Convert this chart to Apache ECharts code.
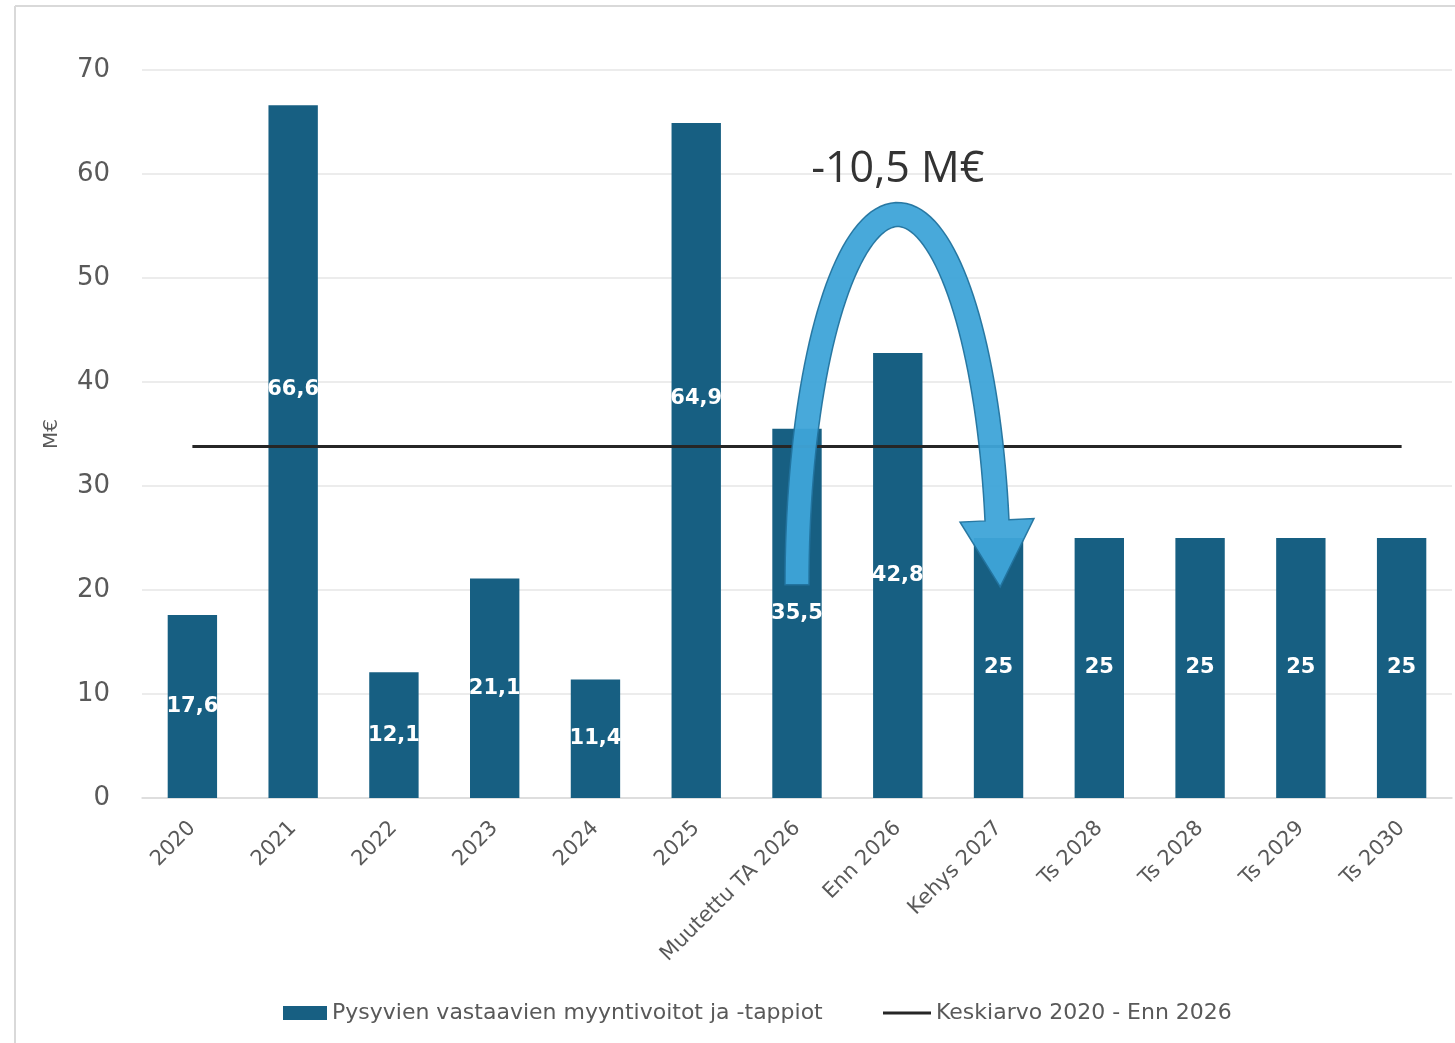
<!DOCTYPE html>
<html>
<head>
<meta charset="utf-8">
<script src="https://cdn.jsdelivr.net/npm/echarts@6/dist/echarts.min.js"></script>
<style>
html,body{margin:0;padding:0;background:#fff;}
#chart{width:1455px;height:1043px;}
</style>
</head>
<body>
<div id="chart"></div>
<script>
const categories = ['2020','2021','2022','2023','2024','2025','Muutettu TA 2026','Enn 2026','Kehys 2027','Ts 2028','Ts 2028','Ts 2029','Ts 2030'];
const salesGains = [17.6, 66.6, 12.1, 21.1, 11.4, 64.9, 35.5, 42.8, 25, 25, 25, 25, 25];
const averageLine = [33.8, 33.8, 33.8, 33.8, 33.8, 33.8, 33.8, 33.8, 33.8, 33.8, 33.8, 33.8, 33.8];
const yTicks = [0, 10, 20, 30, 40, 50, 60, 70];
// arrow annotation: [fromCat, midCat, toCat, footValue, apexValue, headBaseValue, tipValue]
const arrowAnno = [[6, 7, 8, 20.5, 56.1, 26.7, 20.3]];
const arrowText = '-10,5 M€';

const seriesBarName = 'Pysyvien vastaavien myyntivoitot ja -tappiot';
const seriesLineName = 'Keskiarvo 2020 - Enn 2026';
const raisedLabels = [1, 5];

const FONT = '"DejaVu Sans", "Liberation Sans", sans-serif';

const chart = echarts.init(document.getElementById('chart'));

function fmt(v){ return String(v).replace('.', ','); }

function renderArrow(params, api){
  const fromC = api.value(0), midC = api.value(1), toC = api.value(2);
  const footV = api.value(3), apexV = api.value(4), headV = api.value(5), tipV = api.value(6);
  const pFoot = api.coord([fromC, footV]);
  const pMid = api.coord([midC, footV]);
  const pTo = api.coord([toC, footV]);
  const apexY = api.coord([midC, apexV])[1];
  const headY = api.coord([toC, headV])[1];
  const tipY = api.coord([toC, tipV])[1];
  const cx = pMid[0], cy = pMid[1];
  const rxL = cx - pFoot[0], rxR = pTo[0] - cx;
  const ry = cy - apexY;
  const w = 24, headHalf = 37;
  const thEnd = Math.asin(Math.max(0, Math.min(1, (cy - headY) / ry)));
  const N = 80;
  const left = [], right = [];
  let endP = null, endDir = null;
  for (let i = 0; i <= N; i++) {
    const th = Math.PI - (Math.PI - thEnd) * i / N;
    const rx = Math.cos(th) < 0 ? rxL : rxR;
    const x = cx + rx * Math.cos(th);
    const y = cy - ry * Math.sin(th);
    let dx = rx * Math.sin(th), dy = ry * Math.cos(th);
    const len = Math.hypot(dx, dy) || 1;
    dx /= len; dy /= len;
    const nx = -dy, ny = dx;
    left.push([x + nx * w / 2, y + ny * w / 2]);
    right.push([x - nx * w / 2, y - ny * w / 2]);
    endP = [x, y]; endDir = [dx, dy];
  }
  const nx = -endDir[1], ny = endDir[0];
  const L = (tipY - endP[1]) / endDir[1];
  const tip = [endP[0] + endDir[0] * L, endP[1] + endDir[1] * L];
  const pts = left.slice();
  pts.push([endP[0] + nx * headHalf, endP[1] + ny * headHalf]);
  pts.push(tip);
  pts.push([endP[0] - nx * headHalf, endP[1] - ny * headHalf]);
  for (let i = right.length - 1; i >= 0; i--) pts.push(right[i]);
  return {
    type: 'group',
    children: [
      {
        type: 'polygon',
        shape: { points: pts },
        style: { fill: '#3ea4d8', stroke: '#22739e', lineWidth: 1.5, opacity: 0.95 }
      },
      {
        type: 'text',
        x: cx,
        y: apexY - 45,
        style: {
          text: arrowText,
          fill: '#333333',
          font: '43px "Open Sans", "Liberation Sans", sans-serif',
          align: 'center',
          verticalAlign: 'middle'
        }
      }
    ]
  };
}

const legendText = { color: '#595959', fontSize: 22, fontFamily: FONT };

const option = {
  backgroundColor: '#ffffff',
  animation: false,
  graphic: [
    { type: 'line', shape: { x1: 15, y1: 6, x2: 15, y2: 1043 }, style: { stroke: '#d9d9d9', lineWidth: 2 } },
    { type: 'line', shape: { x1: 15, y1: 6, x2: 1455, y2: 6 }, style: { stroke: '#d9d9d9', lineWidth: 2 } }
  ],
  grid: { left: 142, right: 3, top: 70, bottom: 245, containLabel: false },
  legend: [
    {
      left: 278,
      bottom: 14,
      itemWidth: 44,
      itemHeight: 14,
      data: [{ name: seriesBarName, icon: 'rect' }],
      textStyle: legendText
    },
    {
      left: 878,
      bottom: 14,
      itemWidth: 48,
      itemHeight: 3,
      data: [{ name: seriesLineName, icon: 'rect' }],
      textStyle: legendText
    }
  ],
  xAxis: {
    type: 'category',
    data: categories,
    axisLine: { lineStyle: { color: '#d9d9d9', width: 1.5 } },
    axisTick: { show: false },
    axisLabel: {
      rotate: 45,
      interval: 0,
      margin: 27,
      color: '#595959',
      fontSize: 21,
      fontFamily: FONT
    }
  },
  yAxis: {
    type: 'value',
    min: yTicks[0],
    max: yTicks[yTicks.length - 1],
    interval: yTicks[1] - yTicks[0],
    name: 'M€',
    nameLocation: 'middle',
    nameGap: 80,
    nameTextStyle: { color: '#595959', fontSize: 20, fontFamily: FONT },
    axisLine: { show: false },
    axisTick: { show: false },
    axisLabel: { color: '#595959', fontSize: 26, margin: 32, fontFamily: FONT },
    splitLine: { lineStyle: { color: '#e6e6e6', width: 1.5 } }
  },
  series: [
    {
      name: seriesBarName,
      type: 'bar',
      barWidth: '49%',
      data: salesGains.map((v, i) => raisedLabels.includes(i)
        ? { value: v, label: { offset: [0, -62] } }
        : v),
      itemStyle: { color: '#175f82' },
      label: {
        show: true,
        position: 'inside',
        color: '#ffffff',
        fontSize: 21,
        fontWeight: 'bold',
        fontFamily: FONT,
        formatter: p => fmt(p.value)
      },
      z: 2
    },
    {
      name: seriesLineName,
      type: 'line',
      data: averageLine,
      symbol: 'none',
      lineStyle: { color: '#262626', width: 3 },
      itemStyle: { color: '#262626' },
      z: 3
    },
    {
      name: 'arrow',
      type: 'custom',
      data: arrowAnno,
      dimensions: ['fromC', 'midC', 'toC', 'foot', 'apex', 'head', 'tip'],
      encode: { x: [0, 1, 2], y: [3, 4, 5, 6] },
      renderItem: renderArrow,
      silent: true,
      z: 5
    }
  ]
};
chart.setOption(option);
</script>
</body>
</html>
